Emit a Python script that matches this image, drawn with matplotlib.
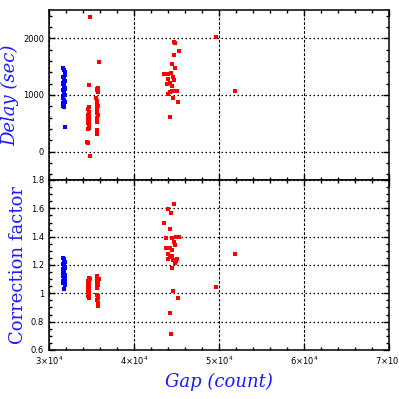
import matplotlib
matplotlib.use("Agg")
import matplotlib.pyplot as plt
from matplotlib.ticker import MultipleLocator, FuncFormatter

# ---- data ----
# Top panel: Delay (sec) vs Gap (count)
blue_gap_top = [31650, 31700, 31750, 31800, 31850, 31900, 31700, 31750, 31800, 31850,
                31650, 31700, 31750, 31800, 31850, 31900, 31700, 31750, 31800, 31850,
                31650, 31700, 31750, 31800, 31850, 31700, 31750, 31800, 31650, 31750, 31900]
blue_delay = [1480, 1470, 1450, 1440, 1400, 1350, 1320, 1300, 1280, 1250,
              1220, 1200, 1180, 1150, 1120, 1100, 1080, 1050, 1020, 1000,
              980, 950, 920, 900, 880, 860, 840, 820, 800, 780, 430]

red_gap_top = [34800, 34750, 34650, 34600, 34700, 34650, 34600, 34700, 34650, 34600,
               34700, 34650, 34600, 34700, 34650, 34600, 34500, 34550, 34800,
               35900, 35750, 35700, 35650, 35800, 35550, 35700, 35600, 35650, 35800,
               35700, 35600, 35650, 35800, 35700, 35650, 35600, 35700, 35650,
               44820, 45330, 44740, 44430, 44820, 43570, 44040, 44350, 44630, 44740,
               44040, 43840, 44230, 44430, 44430, 44820, 45060, 44040, 44230, 44630,
               45210, 44270, 44700,
               49650, 51900]
red_delay = [2380, 1170, 780, 760, 700, 680, 650, 620, 600, 580,
             550, 520, 500, 460, 420, 400, 170, 160, -70,
             1580, 1130, 1100, 1080, 1050, 940, 900, 850, 820, 800,
             760, 720, 680, 640, 600, 560, 530, 390, 320,
             1910, 1775, 1705, 1545, 1480, 1370, 1370, 1390, 1310, 1265,
             1275, 1195, 1205, 1160, 1075, 1065, 1075, 1015, 1050, 945,
             870, 605, 1930,
             2030, 1070]

# Bottom panel: Correction factor vs Gap (count)
blue_gap_bot = [31700, 31750, 31800, 31850, 31700, 31750, 31800, 31850, 31650, 31700,
                31750, 31800, 31850, 31650, 31700, 31750, 31800, 31850, 31700, 31750,
                31800, 31850, 31700, 31750, 31800, 31850, 31650, 31700, 31900, 31850, 31750]
blue_factor = [1.25, 1.24, 1.23, 1.22, 1.21, 1.20, 1.19, 1.18, 1.17, 1.16,
               1.15, 1.14, 1.13, 1.12, 1.12, 1.11, 1.10, 1.10, 1.09, 1.09,
               1.08, 1.08, 1.07, 1.07, 1.07, 1.06, 1.12, 1.13, 1.11, 1.10, 1.03]

red_gap_bot = [34700, 34650, 34600, 34700, 34650, 34600, 34700, 34650, 34600, 34700,
               34650, 34600, 34700, 34650, 34600, 34700, 34800, 34750, 34550,
               35650, 35700, 35800, 35750, 35650, 35700, 35800, 35650, 35700, 35850,
               35750, 35700, 35800, 35750, 35700, 35800, 35750, 35650, 35700,
               44710, 44040, 44350, 43490, 44270, 43760, 44900, 45330, 44470, 44740,
               44820, 43730, 44230, 44430, 44040, 44430, 44230, 43960, 44630, 44900,
               45060, 44820, 44430, 44550, 45210, 44270, 44310,
               49650, 51900]
red_factor = [1.11, 1.10, 1.09, 1.08, 1.07, 1.06, 1.05, 1.04, 1.03, 1.02,
              1.01, 1.00, 0.99, 0.98, 0.98, 0.97, 1.10, 1.05, 1.00,
              1.12, 1.11, 1.10, 1.09, 1.08, 1.07, 1.06, 1.05, 1.04, 1.10,
              1.09, 0.99, 0.98, 0.97, 0.95, 0.93, 0.91, 1.11, 1.07,
              1.631, 1.593, 1.565, 1.499, 1.452, 1.388, 1.40, 1.395, 1.39, 1.365,
              1.34, 1.318, 1.322, 1.305, 1.275, 1.265, 1.258, 1.242, 1.235, 1.228,
              1.24, 1.212, 1.177, 1.019, 0.965, 0.859, 0.711,
              1.047, 1.277]

x_range = (30000, 70000)
delay_range = (-500, 2500)
factor_range = (0.6, 1.8)

BLUE = "#0000ff"
RED = "#ff0000"
LABEL_BLUE = "#1a1aff"

fig = plt.figure(figsize=(3.99, 3.99), dpi=100)
fig.patch.set_facecolor("white")

L, W = 49 / 399, 340 / 399
ax1 = fig.add_axes([L, 1 - 180 / 399, W, 170 / 399])
ax2 = fig.add_axes([L, 1 - 350 / 399, W, 170 / 399])


def xfmt(v, pos):
    m = int(round(v / 1e4))
    return r"$%d{\times}10^{4}$" % m


for ax in (ax1, ax2):
    ax.set_xlim(*x_range)
    ax.xaxis.set_major_locator(MultipleLocator(10000))
    ax.xaxis.set_minor_locator(MultipleLocator(2000))
    ax.tick_params(which="both", direction="in", top=True, right=True,
                   labelsize=6, width=1, colors="black")
    ax.tick_params(which="major", length=4)
    ax.tick_params(which="minor", length=2.5)
    for s in ax.spines.values():
        s.set_linewidth(1.1)
    ax.xaxis.grid(True, which="major", color="black", linestyle=(0, (2.5, 1.5)), linewidth=0.8)
    ax.yaxis.grid(True, which="major", color="black", linestyle=(0, (1.2, 2)), linewidth=0.9)
    ax.set_axisbelow(True)

# Top panel
ax1.plot(red_gap_top, red_delay, linestyle="none", marker="s", markersize=2.6,
         color=RED, markeredgewidth=0)
ax1.plot(blue_gap_top, blue_delay, linestyle="none", marker="s", markersize=2.6,
         color=BLUE, markeredgewidth=0)
ax1.set_ylim(*delay_range)
ax1.yaxis.set_major_locator(MultipleLocator(1000))
ax1.yaxis.set_minor_locator(MultipleLocator(200))
ax1.yaxis.set_major_formatter(FuncFormatter(lambda v, p: "%d" % v))
ax1.tick_params(labelbottom=False)
ax1.set_ylabel("Delay (sec)", fontsize=13, color=LABEL_BLUE,
               family="DejaVu Serif", style="italic", labelpad=3)

# Bottom panel
ax2.plot(red_gap_bot, red_factor, linestyle="none", marker="s", markersize=2.6,
         color=RED, markeredgewidth=0)
ax2.plot(blue_gap_bot, blue_factor, linestyle="none", marker="s", markersize=2.6,
         color=BLUE, markeredgewidth=0)
ax2.set_ylim(*factor_range)
ax2.yaxis.set_major_locator(MultipleLocator(0.2))
ax2.yaxis.set_minor_locator(MultipleLocator(0.05))
ax2.yaxis.set_major_formatter(FuncFormatter(lambda v, p: "%g" % round(v, 2)))
ax2.xaxis.set_major_formatter(FuncFormatter(xfmt))
ax2.set_ylabel("Correction factor", fontsize=13, color=LABEL_BLUE,
               family="DejaVu Serif", labelpad=3)
ax2.set_xlabel("Gap (count)", fontsize=13, color=LABEL_BLUE,
               family="DejaVu Serif", style="italic", labelpad=4)

fig.savefig("out.png", dpi=100, facecolor="white")
